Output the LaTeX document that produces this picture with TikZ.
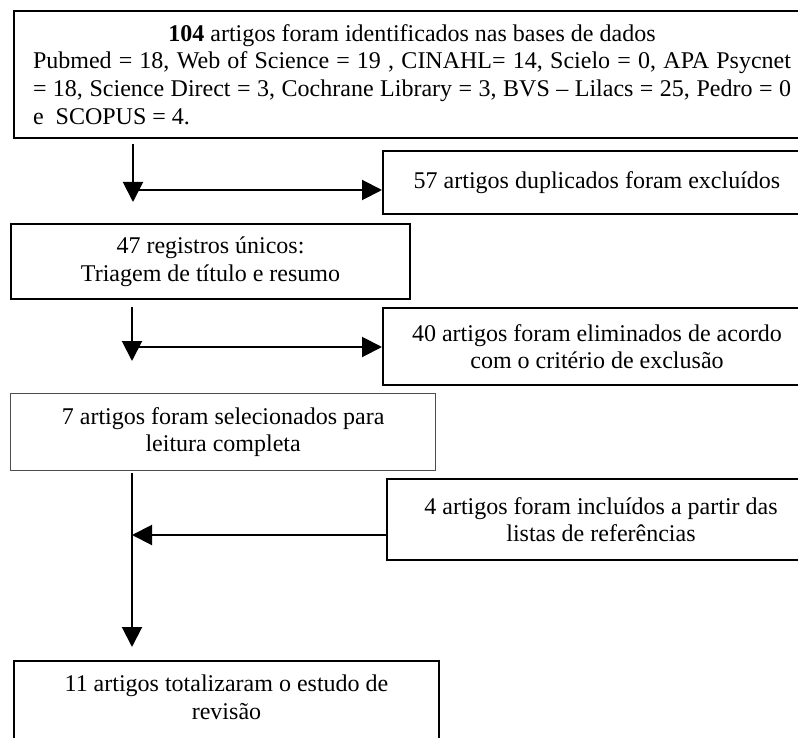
\documentclass[tikz,border=0pt]{standalone}
\usepackage{fontspec}
\setmainfont{Liberation Serif}
\usetikzlibrary{positioning}
\usetikzlibrary{arrows.meta}

\begin{document}
\begin{tikzpicture}[x=1pt, y=-1pt,
stagebox/.style={rectangle, draw=black, line width=2pt, inner sep=0pt, anchor=north west, align=center, font=\fontsize{24}{27.6}\selectfont},
readbox/.style={stagebox, draw=black!70, line width=1.3pt},
flowline/.style={line width=2pt, -{Triangle[length=20pt, width=20pt]}},
]
\useasboundingbox (0,0) rectangle (798,738);
%Nodes
\node[stagebox, minimum width=796pt, minimum height=127pt, text width=758pt, align=justify]	(ident)	at (13,10)	{{\centering\textbf{104} artigos foram identificados nas bases de dados\par}\noindent Pubmed = 18, Web of Science = 19 , CINAHL= 14, Scielo = 0, APA Psycnet\linebreak = 18, Science Direct = 3, Cochrane Library = 3, BVS – Lilacs = 25, Pedro = 0\linebreak e\ \ SCOPUS = 4.};
\node[stagebox, minimum width=428pt, minimum height=63pt]	(dupl)		at (382,150)	{57 artigos duplicados foram excluídos};
\node[stagebox, minimum width=399pt, minimum height=75pt]	(screen)	at (10,223)		{47 registros únicos:\\Triagem de título e resumo};
\node[stagebox, minimum width=428pt, minimum height=77pt]	(excl)		at (382,307)	{40 artigos foram eliminados de acordo\\com o critério de exclusão};
\node[readbox, minimum width=425pt, minimum height=77pt]	(full)		at (10,393)		{7 artigos foram selecionados para\\leitura completa};
\node[stagebox, minimum width=428pt, minimum height=81pt]	(refs)		at (386,478)	{4 artigos foram incluídos a partir das\\listas de referências};
\node[stagebox, minimum width=425pt, minimum height=100pt]	(total)		at (13,660)		{11 artigos totalizaram o estudo de\\revisão\\ \mbox{}};

%Free ends
\coordinate (down1) at (133,144);
\coordinate (tip1)  at (133,202);
\coordinate (side1) at (133,190);
\coordinate (down2) at (132,307);
\coordinate (tip2)  at (132,361);
\coordinate (side2) at (132,347);
\coordinate (down3) at (132,473);
\coordinate (tip3)  at (132,647);
\coordinate (side3) at (132,535);

%Lines
\draw[flowline] (down1) -- (tip1);
\draw[flowline] (side1) -- (side1 -| dupl.west);
\draw[flowline] (down2) -- (tip2);
\draw[flowline] (side2) -- (side2 -| excl.west);
\draw[flowline] (down3) -- (tip3);
\draw[flowline] (side3 -| refs.west) -- (side3);
\end{tikzpicture}
\end{document}
